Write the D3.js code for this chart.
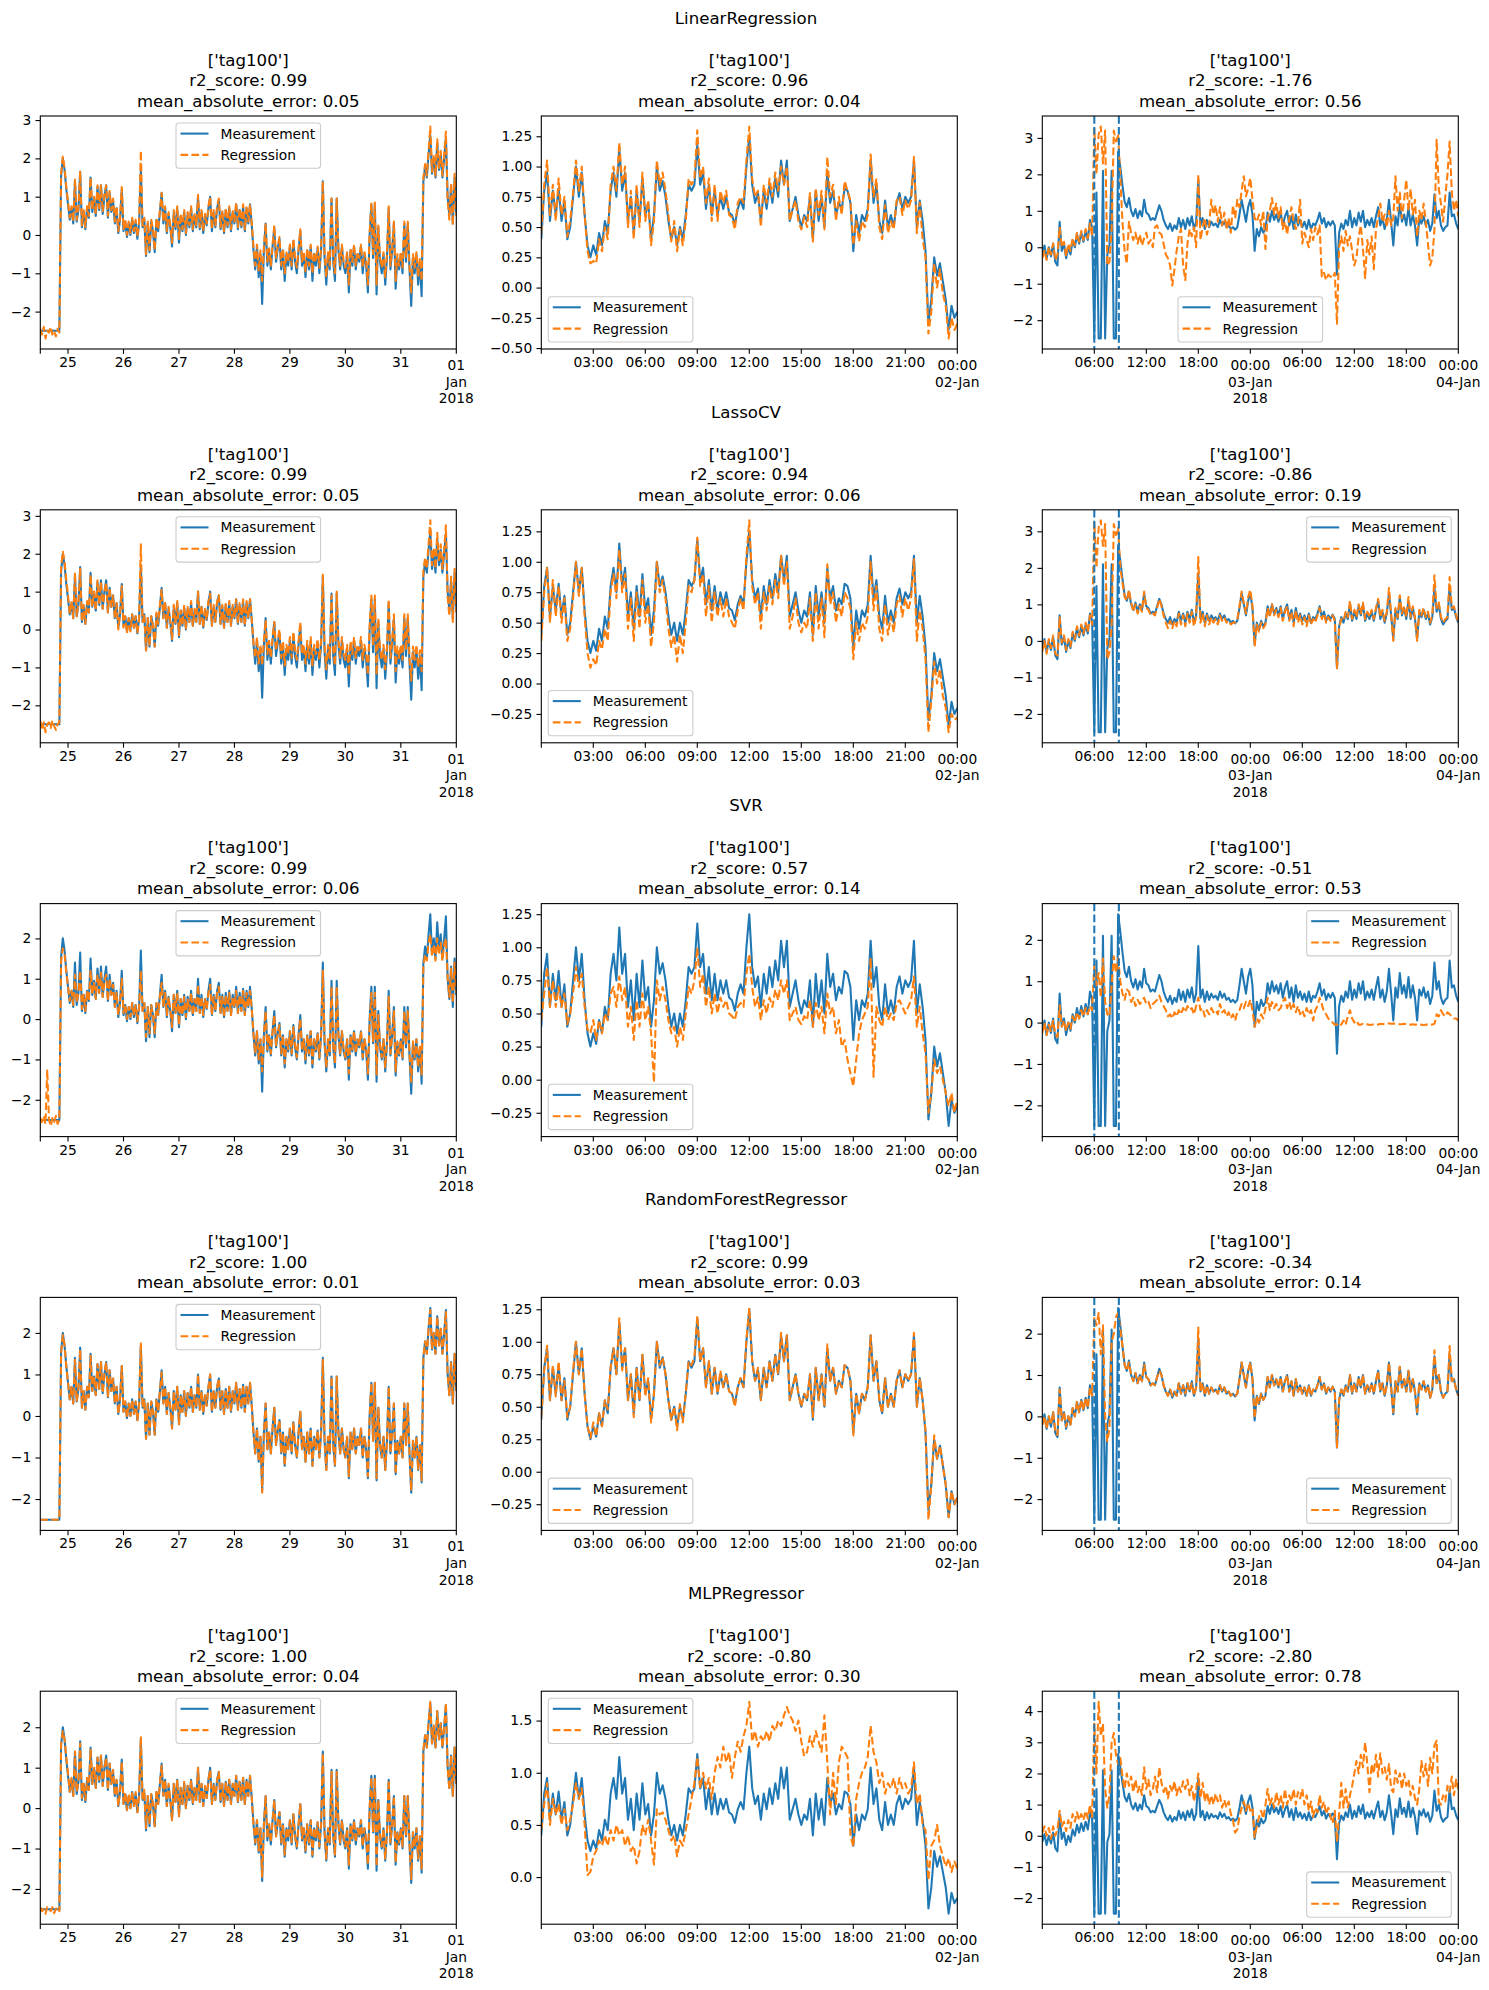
<!DOCTYPE html>
<html>
<head>
<meta charset="utf-8">
<script src="https://cdn.jsdelivr.net/npm/d3@7"></script>
<style>
  body { margin: 0; background: #fff; }
  svg { display: block; font-family: "DejaVu Sans", sans-serif; }
</style>
</head>
<body>
<svg id="chart" width="1489" height="1990"></svg>
<script>
// models (one row each) and their scores per column
var modelNames = ["LinearRegression", "LassoCV", "SVR", "RandomForestRegressor", "MLPRegressor"];
var r2Scores = [
  ["0.99", "0.96", "-1.76"],
  ["0.99", "0.94", "-0.86"],
  ["0.99", "0.57", "-0.51"],
  ["1.00", "0.99", "-0.34"],
  ["1.00", "-0.80", "-2.80"]
];
var maeScores = [
  ["0.05", "0.04", "0.56"],
  ["0.05", "0.06", "0.19"],
  ["0.06", "0.14", "0.53"],
  ["0.01", "0.03", "0.14"],
  ["0.04", "0.30", "0.78"]
];
var tagName = "['tag100']";
var seriesNames = ["Measurement", "Regression"];

// column 1: 24 Dec 12:00 -> 1 Jan, every 45 min
var measDec = [
  -2.5, -2.5, -2.5, -2.5, -2.5, -2.5, -2.5, -2.5, -2.5, -2.5,
  -2.5, -2.5, 1.55, 2.0, 1.7, 1.2, 0.8, 0.4, 0.7, 0.3,
  1.4, 0.35, 0.65, 1.65, 0.2, 0.6, 0.15, 0.7, 0.45, 1.5,
  0.6, 0.95, 0.5, 1.25, 0.65, 1.3, 0.55, 1.0, 1.3, 0.45,
  1.1, 0.6, 0.9, 0.3, 0.7, 0.05, 0.4, 1.2, 0.1, 0.35,
  -0.05, 0.3, 0.0, 0.4, 0.05, 0.35, -0.1, 0.3, 1.7, 0.2,
  0.4, -0.55, 0.3, -0.45, 0.35, 0.1, -0.45, 0.4, 0.1, 0.6,
  1.1, 0.3, 0.7, 0.05, 0.55, 0.2, -0.3, 0.6, 0.15, 0.7,
  -0.2, 0.5, 0.1, 0.6, 0.0, 0.55, 0.2, 0.7, 0.1, 0.5,
  0.2, 1.0, 0.15, 0.6, 0.05, 0.5, 0.25, 0.7, 1.0, 0.1,
  0.6, 0.2, 0.7, 0.9, 0.15, 0.6, 0.05, 0.65, 0.2, 0.7,
  0.1, 0.6, 0.3, 0.8, 0.15, 0.65, 0.2, 0.75, 0.1, 0.7,
  0.3, 0.8, 0.25, -0.4, -0.9, -0.3, -1.1, -0.5, -1.8, -0.4,
  0.3, -0.8, -0.4, -0.9, -0.3, 0.2, -0.7, -0.35, -0.1, -0.9,
  -0.4, -1.2, -0.5, -0.8, -0.3, -0.9, -0.15, -0.7, -1.0, -0.4,
  0.1, -0.8, -0.5, -1.1, -0.4, -0.9, -0.3, -1.2, -0.5, -0.8,
  -0.35, -1.0, -0.4, 1.4, -0.6, -1.3, -0.5, -0.9, 0.95, -0.7,
  -1.2, 0.95, -0.4, -0.9, -0.3, -0.8, -1.0, -0.5, -1.5, -0.4,
  -0.8, -0.3, -0.9, -0.5, -0.7, -0.3, -1.0, -0.5, -0.8, -1.5,
  0.0, 0.8, -0.6, 0.8, -1.55, 0.2, -0.7, -1.0, -0.5, -1.3,
  -0.6, 0.7, -0.9, -0.4, 0.3, -1.4, -0.6, -0.9, -0.5, -1.0,
  0.3, -0.7, 0.3, -0.9, -1.85, -0.6, -1.0, -0.5, -1.3, -0.7,
  -1.6, 1.4, 1.8, 1.5, 2.1, 2.6, 1.6, 2.0, 1.5, 2.4,
  1.7, 2.1, 1.5, 2.0, 2.55, 1.0, 0.5, 1.3, 0.3, 1.5,
  0.6
];
var linDec = [
  -2.45, -2.6, -2.4, -2.7, -2.5, -2.55, -2.4, -2.6, -2.5, -2.65,
  -2.45, -2.55, 1.6, 2.05, 1.75, 1.25, 0.85, 0.45, 0.75, 0.35,
  1.45, 0.4, 0.7, 1.65, 0.25, 0.65, 0.2, 0.75, 0.5, 1.5,
  0.65, 1.0, 0.55, 1.3, 0.7, 1.3, 0.6, 1.05, 1.3, 0.5,
  1.15, 0.65, 0.95, 0.35, 0.75, 0.1, 0.45, 1.25, 0.15, 0.4,
  0.0, 0.35, 0.05, 0.45, 0.1, 0.4, -0.05, 0.35, 2.2, 0.25,
  0.45, -0.5, 0.35, -0.4, 0.4, 0.15, -0.4, 0.45, 0.15, 0.65,
  1.1, 0.35, 0.75, 0.1, 0.6, 0.25, -0.2, 0.65, 0.2, 0.75,
  -0.1, 0.55, 0.15, 0.65, 0.05, 0.6, 0.25, 0.75, 0.15, 0.55,
  0.25, 1.05, 0.2, 0.65, 0.1, 0.55, 0.3, 0.75, 1.0, 0.15,
  0.65, 0.25, 0.75, 0.95, 0.2, 0.65, 0.1, 0.7, 0.25, 0.75,
  0.15, 0.65, 0.35, 0.85, 0.2, 0.7, 0.25, 0.8, 0.15, 0.75,
  0.35, 0.8, 0.3, -0.3, -0.8, -0.25, -0.95, -0.4, -1.2, -0.3,
  0.3, -0.7, -0.35, -0.8, -0.25, 0.25, -0.6, -0.3, -0.05, -0.8,
  -0.35, -1.0, -0.45, -0.7, -0.25, -0.8, -0.1, -0.6, -0.85, -0.35,
  0.15, -0.7, -0.45, -0.95, -0.35, -0.8, -0.25, -1.0, -0.45, -0.7,
  -0.3, -0.85, -0.35, 1.4, -0.5, -1.1, -0.45, -0.8, 0.95, -0.6,
  -1.0, 0.95, -0.35, -0.8, -0.25, -0.7, -0.85, -0.45, -1.3, -0.35,
  -0.7, -0.25, -0.8, -0.45, -0.6, -0.25, -0.85, -0.45, -0.7, -1.3,
  0.05, 0.85, -0.5, 0.85, -1.3, 0.25, -0.6, -0.85, -0.45, -1.1,
  -0.5, 0.75, -0.8, -0.35, 0.35, -1.2, -0.5, -0.8, -0.45, -0.85,
  0.35, -0.6, 0.35, -0.8, -1.5, -0.5, -0.85, -0.45, -1.1, -0.6,
  -1.2, 1.5, 1.85, 1.55, 2.2, 2.83, 1.65, 2.1, 1.55, 2.5,
  1.75, 2.2, 1.55, 2.1, 2.7, 0.9, 0.4, 1.35, 0.25, 1.6,
  0.5
];
var lassoDec = [
  -2.4, -2.65, -2.45, -2.71, -2.5, -2.45, -2.6, -2.4, -2.55, -2.65,
  -2.5, -2.45, 1.65, 2.05, 1.8, 1.3, 0.9, 0.4, 0.75, 0.3,
  1.5, 0.35, 0.7, 1.6, 0.2, 0.65, 0.15, 0.75, 0.45, 1.45,
  0.6, 1.0, 0.5, 1.3, 0.65, 1.25, 0.55, 1.0, 1.25, 0.45,
  1.1, 0.6, 0.9, 0.3, 0.7, 0.0, 0.4, 1.15, 0.05, 0.35,
  -0.1, 0.3, -0.05, 0.4, 0.05, 0.35, -0.1, 0.3, 2.25, 0.2,
  0.4, -0.55, 0.3, -0.45, 0.35, 0.1, -0.45, 0.45, 0.15, 0.65,
  1.05, 0.3, 0.75, 0.05, 0.6, 0.2, -0.25, 0.65, 0.15, 0.75,
  -0.15, 0.5, 0.1, 0.65, 0.0, 0.6, 0.2, 0.75, 0.1, 0.55,
  0.2, 1.0, 0.15, 0.65, 0.05, 0.55, 0.25, 0.75, 0.95, 0.1,
  0.65, 0.2, 0.75, 0.9, 0.15, 0.65, 0.05, 0.7, 0.2, 0.75,
  0.1, 0.65, 0.3, 0.8, 0.15, 0.7, 0.2, 0.8, 0.1, 0.75,
  0.3, 0.8, 0.25, -0.35, -0.75, -0.2, -0.9, -0.4, -0.95, -0.3,
  0.25, -0.65, -0.3, -0.75, -0.2, 0.2, -0.55, -0.25, 0.0, -0.75,
  -0.3, -0.95, -0.4, -0.65, -0.2, -0.75, -0.05, -0.55, -0.8, -0.3,
  0.2, -0.65, -0.4, -0.9, -0.3, -0.75, -0.2, -0.95, -0.4, -0.65,
  -0.25, -0.8, -0.3, 1.45, -0.45, -1.05, -0.4, -0.75, 0.9, -0.55,
  -0.95, 1.0, -0.3, -0.75, -0.2, -0.65, -0.8, -0.4, -1.2, -0.3,
  -0.65, -0.2, -0.75, -0.4, -0.55, -0.2, -0.8, -0.4, -0.65, -1.2,
  0.1, 0.9, -0.45, 0.9, -1.2, 0.3, -0.55, -0.8, -0.4, -1.05,
  -0.45, 0.8, -0.75, -0.3, 0.4, -1.1, -0.45, -0.75, -0.4, -0.8,
  0.4, -0.55, 0.4, -0.75, -1.35, -0.45, -0.8, -0.4, -1.0, -0.55,
  -1.1, 1.55, 1.9, 1.6, 2.25, 2.88, 1.7, 2.15, 1.6, 2.55,
  1.8, 2.25, 1.6, 2.1, 2.75, 0.85, 0.35, 1.4, 0.2, 1.6,
  0.45
];
var svrDec = [
  -2.45, -2.55, -2.4, -2.6, -1.25, -2.5, -2.65, -2.45, -2.55, -2.4,
  -2.6, -2.5, 1.45, 1.75, 1.6, 1.15, 0.8, 0.45, 0.7, 0.35,
  1.1, 0.4, 0.65, 1.2, 0.25, 0.6, 0.2, 0.7, 0.45, 1.2,
  0.6, 0.9, 0.5, 1.1, 0.65, 1.15, 0.55, 0.95, 1.1, 0.45,
  1.0, 0.6, 0.85, 0.3, 0.65, 0.1, 0.4, 1.0, 0.15, 0.35,
  0.0, 0.3, 0.05, 0.4, 0.1, 0.35, -0.05, 0.3, 1.2, 0.2,
  0.4, -0.45, 0.3, -0.35, 0.35, 0.1, -0.35, 0.4, 0.1, 0.55,
  0.9, 0.3, 0.65, 0.1, 0.55, 0.2, -0.2, 0.6, 0.15, 0.65,
  -0.15, 0.5, 0.1, 0.55, 0.05, 0.5, 0.2, 0.65, 0.1, 0.5,
  0.2, 0.85, 0.15, 0.55, 0.1, 0.5, 0.25, 0.65, 0.85, 0.1,
  0.55, 0.2, 0.65, 0.8, 0.15, 0.55, 0.05, 0.6, 0.2, 0.65,
  0.1, 0.55, 0.3, 0.7, 0.15, 0.6, 0.2, 0.7, 0.1, 0.65,
  0.3, 0.7, 0.25, -0.35, -0.85, -0.3, -1.0, -0.5, -1.3, -0.4,
  0.2, -0.75, -0.4, -0.85, -0.3, 0.1, -0.65, -0.35, -0.15, -0.85,
  -0.4, -1.1, -0.5, -0.75, -0.3, -0.85, -0.2, -0.65, -0.95, -0.4,
  0.0, -0.75, -0.5, -1.0, -0.4, -0.85, -0.3, -1.1, -0.5, -0.75,
  -0.35, -0.95, -0.4, 1.2, -0.55, -1.2, -0.5, -0.85, 0.8, -0.65,
  -1.1, 0.8, -0.4, -0.85, -0.3, -0.75, -0.95, -0.5, -1.35, -0.4,
  -0.75, -0.3, -0.85, -0.5, -0.65, -0.3, -0.95, -0.5, -0.75, -1.35,
  -0.1, 0.65, -0.55, 0.65, -1.4, 0.1, -0.65, -0.95, -0.5, -1.2,
  -0.55, 0.55, -0.85, -0.4, 0.2, -1.3, -0.55, -0.85, -0.5, -0.95,
  0.2, -0.65, 0.2, -0.85, -1.55, -0.55, -0.95, -0.5, -1.2, -0.65,
  -1.4, 1.3, 1.6, 1.45, 1.9, 2.1, 1.55, 1.85, 1.45, 2.0,
  1.6, 1.9, 1.45, 1.85, 2.0, 1.05, 0.55, 1.25, 0.4, 1.4,
  0.65
];
var rfDec = [
  -2.5, -2.5, -2.5, -2.5, -2.5, -2.5, -2.5, -2.5, -2.5, -2.5,
  -2.5, -2.5, 1.5, 1.95, 1.7, 1.2, 0.8, 0.4, 0.7, 0.3,
  1.35, 0.35, 0.65, 1.6, 0.2, 0.6, 0.15, 0.7, 0.45, 1.45,
  0.6, 0.95, 0.5, 1.25, 0.65, 1.3, 0.55, 1.0, 1.3, 0.45,
  1.1, 0.6, 0.9, 0.3, 0.7, 0.05, 0.4, 1.2, 0.1, 0.35,
  -0.05, 0.3, 0.0, 0.4, 0.05, 0.35, -0.1, 0.3, 1.75, 0.2,
  0.4, -0.55, 0.3, -0.45, 0.35, 0.1, -0.45, 0.4, 0.1, 0.6,
  1.05, 0.3, 0.7, 0.05, 0.55, 0.2, -0.3, 0.6, 0.15, 0.7,
  -0.2, 0.5, 0.1, 0.6, 0.0, 0.55, 0.2, 0.7, 0.1, 0.5,
  0.2, 1.0, 0.15, 0.6, 0.05, 0.5, 0.25, 0.7, 1.0, 0.1,
  0.6, 0.2, 0.7, 0.9, 0.15, 0.6, 0.05, 0.65, 0.2, 0.7,
  0.1, 0.6, 0.3, 0.8, 0.15, 0.65, 0.2, 0.75, 0.1, 0.7,
  0.3, 0.8, 0.25, -0.4, -0.9, -0.3, -1.1, -0.5, -1.85, -0.4,
  0.3, -0.8, -0.4, -0.9, -0.3, 0.2, -0.7, -0.35, -0.1, -0.9,
  -0.4, -1.2, -0.5, -0.8, -0.3, -0.9, -0.15, -0.7, -1.0, -0.4,
  0.1, -0.8, -0.5, -1.1, -0.4, -0.9, -0.3, -1.2, -0.5, -0.8,
  -0.35, -1.0, -0.4, 1.35, -0.6, -1.3, -0.5, -0.9, 0.95, -0.7,
  -1.2, 0.95, -0.4, -0.9, -0.3, -0.8, -1.0, -0.5, -1.45, -0.4,
  -0.8, -0.3, -0.9, -0.5, -0.7, -0.3, -1.0, -0.5, -0.8, -1.45,
  0.0, 0.8, -0.6, 0.8, -1.5, 0.2, -0.7, -1.0, -0.5, -1.3,
  -0.6, 0.7, -0.9, -0.4, 0.3, -1.4, -0.6, -0.9, -0.5, -1.0,
  0.3, -0.7, 0.3, -0.9, -1.8, -0.6, -1.0, -0.5, -1.3, -0.7,
  -1.55, 1.4, 1.8, 1.5, 2.1, 2.55, 1.6, 2.0, 1.5, 2.4,
  1.7, 2.1, 1.5, 2.0, 2.5, 1.0, 0.5, 1.3, 0.3, 1.5,
  0.6
];
var mlpDec = [
  -2.45, -2.55, -2.5, -2.61, -2.45, -2.5, -2.55, -2.45, -2.6, -2.5,
  -2.45, -2.55, 1.6, 1.9, 1.7, 1.25, 0.85, 0.4, 0.75, 0.3,
  1.4, 0.4, 0.65, 1.6, 0.25, 0.6, 0.2, 0.75, 0.45, 1.45,
  0.6, 1.0, 0.5, 1.25, 0.7, 1.3, 0.55, 1.0, 1.25, 0.45,
  1.1, 0.6, 0.95, 0.3, 0.7, 0.05, 0.45, 1.15, 0.1, 0.4,
  -0.05, 0.35, 0.0, 0.4, 0.05, 0.4, -0.1, 0.3, 1.75, 0.2,
  0.45, -0.5, 0.3, -0.4, 0.35, 0.1, -0.45, 0.45, 0.1, 0.6,
  1.05, 0.3, 0.7, 0.05, 0.6, 0.2, -0.3, 0.6, 0.15, 0.7,
  -0.2, 0.5, 0.1, 0.65, 0.0, 0.55, 0.2, 0.7, 0.1, 0.5,
  0.2, 1.0, 0.15, 0.6, 0.05, 0.55, 0.25, 0.7, 0.95, 0.1,
  0.6, 0.2, 0.7, 0.9, 0.15, 0.6, 0.05, 0.65, 0.2, 0.7,
  0.1, 0.6, 0.3, 0.8, 0.15, 0.65, 0.2, 0.75, 0.1, 0.7,
  0.3, 0.8, 0.25, -0.4, -0.85, -0.3, -1.05, -0.5, -1.7, -0.4,
  0.3, -0.75, -0.4, -0.85, -0.3, 0.2, -0.7, -0.35, -0.1, -0.85,
  -0.4, -1.15, -0.5, -0.75, -0.3, -0.85, -0.15, -0.7, -0.95, -0.4,
  0.1, -0.75, -0.5, -1.05, -0.4, -0.85, -0.3, -1.15, -0.5, -0.75,
  -0.35, -0.95, -0.4, 1.35, -0.6, -1.25, -0.5, -0.85, 0.9, -0.7,
  -1.15, 0.9, -0.4, -0.85, -0.3, -0.75, -0.95, -0.5, -1.4, -0.4,
  -0.75, -0.3, -0.85, -0.5, -0.7, -0.3, -0.95, -0.5, -0.75, -1.4,
  0.0, 0.75, -0.6, 0.75, -1.45, 0.2, -0.7, -0.95, -0.5, -1.25,
  -0.6, 0.7, -0.85, -0.4, 0.3, -1.35, -0.6, -0.85, -0.5, -0.95,
  0.3, -0.7, 0.3, -0.85, -1.75, -0.6, -0.95, -0.5, -1.25, -0.7,
  -1.5, 1.45, 1.8, 1.5, 2.1, 2.63, 1.6, 2.05, 1.5, 2.4,
  1.7, 2.1, 1.5, 2.0, 2.6, 1.0, 0.45, 1.3, 0.3, 1.5,
  0.6
];

// column 2: 1 Jan 00:00 -> 2 Jan 00:00, every 10 min
var measJan1 = [
  0.4, 0.8, 0.95, 0.55, 0.8, 0.6, 0.82, 0.55, 0.72, 0.4,
  0.5, 0.75, 1.0, 0.75, 0.95, 0.6, 0.35, 0.25, 0.35, 0.27,
  0.45, 0.35, 0.55, 0.45, 0.8, 0.95, 0.75, 1.15, 0.8, 0.95,
  0.55, 0.75, 0.45, 0.8, 0.55, 0.9, 0.6, 0.7, 0.4, 0.6,
  1.0, 0.8, 0.88, 0.75, 0.55, 0.4, 0.5, 0.35, 0.5, 0.4,
  0.6, 0.85, 0.8, 0.85, 1.18, 0.85, 0.95, 0.65, 0.85, 0.6,
  0.8, 0.6, 0.75, 0.65, 0.75, 0.62, 0.6, 0.52, 0.65, 0.72,
  0.65, 1.0, 1.25, 0.85, 0.7, 0.78, 0.55, 0.8, 0.65, 0.85,
  0.7, 0.9, 0.75, 1.05, 0.85, 1.05, 0.55, 0.65, 0.75, 0.6,
  0.5, 0.6, 0.55, 0.75, 0.4, 0.8, 0.55, 0.75, 0.5, 0.95,
  0.7, 0.8, 0.6, 0.7, 0.65, 0.82, 0.8, 0.7, 0.3, 0.6,
  0.45, 0.6, 0.55, 0.65, 1.05, 0.7, 0.85, 0.55, 0.45, 0.72,
  0.5, 0.6, 0.5, 0.7, 0.78, 0.65, 0.75, 0.7, 0.75, 1.05,
  0.5, 0.72, 0.55, 0.3, -0.3, -0.1, 0.25, 0.1, 0.2, 0.05,
  -0.1, -0.35, -0.15, -0.25, -0.2
];
var linJan1 = [
  0.45, 0.85, 1.05, 0.6, 0.85, 0.55, 0.9, 0.6, 0.75, 0.42,
  0.55, 0.78, 1.05, 0.8, 1.0, 0.6, 0.3, 0.2, 0.22, 0.2,
  0.4, 0.3, 0.5, 0.4, 0.85, 1.0, 0.8, 1.2, 0.85, 1.0,
  0.5, 0.8, 0.4, 0.85, 0.5, 0.95, 0.55, 0.72, 0.35, 0.55,
  1.05, 0.85, 0.95, 0.8, 0.6, 0.38, 0.55, 0.3, 0.48, 0.35,
  0.55, 0.9, 0.85, 0.9, 1.3, 0.9, 1.0, 0.7, 0.9, 0.55,
  0.85, 0.55, 0.8, 0.7, 0.8, 0.6, 0.58, 0.48, 0.7, 0.75,
  0.7, 1.05, 1.33, 0.9, 0.75, 0.8, 0.5, 0.85, 0.7, 0.9,
  0.75, 0.95, 0.8, 1.0, 0.85, 1.0, 0.55, 0.65, 0.72, 0.55,
  0.48, 0.58, 0.5, 0.78, 0.38, 0.82, 0.6, 0.8, 0.48, 1.08,
  0.75, 0.85, 0.55, 0.75, 0.6, 0.88, 0.8, 0.72, 0.35, 0.55,
  0.38, 0.55, 0.5, 0.6, 1.1, 0.75, 0.9, 0.5, 0.4, 0.68,
  0.45, 0.55, 0.48, 0.72, 0.75, 0.6, 0.72, 0.65, 0.72, 1.08,
  0.45, 0.7, 0.4, 0.25, -0.38, -0.2, 0.2, 0.0, 0.15, -0.05,
  -0.15, -0.42, -0.25, -0.35, -0.3
];
var lassoJan1 = [
  0.35, 0.75, 0.95, 0.5, 0.85, 0.55, 0.8, 0.5, 0.7, 0.35,
  0.45, 0.7, 1.0, 0.72, 0.95, 0.55, 0.25, 0.13, 0.2, 0.15,
  0.35, 0.28, 0.45, 0.35, 0.75, 0.9, 0.7, 1.1, 0.75, 0.9,
  0.45, 0.7, 0.35, 0.75, 0.45, 0.85, 0.5, 0.65, 0.3, 0.5,
  1.0, 0.75, 0.85, 0.7, 0.45, 0.3, 0.4, 0.18, 0.4, 0.25,
  0.5, 0.8, 0.75, 0.85, 1.2, 0.8, 0.9, 0.55, 0.8, 0.5,
  0.75, 0.55, 0.7, 0.55, 0.7, 0.55, 0.5, 0.45, 0.6, 0.7,
  0.6, 1.05, 1.34, 0.8, 0.65, 0.75, 0.45, 0.75, 0.6, 0.8,
  0.65, 0.85, 0.7, 1.05, 0.8, 1.0, 0.45, 0.55, 0.7, 0.5,
  0.42, 0.5, 0.45, 0.7, 0.35, 0.75, 0.45, 0.7, 0.38, 0.98,
  0.65, 0.75, 0.5, 0.65, 0.55, 0.75, 0.7, 0.62, 0.2, 0.5,
  0.35, 0.5, 0.45, 0.55, 1.0, 0.6, 0.8, 0.45, 0.35, 0.65,
  0.4, 0.55, 0.42, 0.65, 0.72, 0.55, 0.7, 0.6, 0.7, 1.02,
  0.35, 0.6, 0.45, 0.2, -0.4, -0.15, 0.18, 0.0, 0.12, -0.1,
  -0.2, -0.4, -0.25, -0.3, -0.28
];
var svrJan1 = [
  0.45, 0.65, 0.85, 0.55, 0.75, 0.55, 0.7, 0.55, 0.65, 0.42,
  0.5, 0.65, 0.85, 0.7, 0.8, 0.55, 0.38, 0.35, 0.45, 0.3,
  0.45, 0.35, 0.5, 0.45, 0.65, 0.7, 0.55, 0.78, 0.6, 0.7,
  0.4, 0.55, 0.3, 0.6, 0.4, 0.65, 0.45, 0.55, 0.35, -0.02,
  0.75, 0.6, 0.7, 0.6, 0.45, 0.35, 0.4, 0.25, 0.4, 0.3,
  0.5, 0.7, 0.65, 0.75, 1.0, 0.7, 0.8, 0.55, 0.7, 0.5,
  0.65, 0.5, 0.62, 0.55, 0.6, 0.5, 0.48, 0.45, 0.55, 0.58,
  0.55, 0.8, 0.95, 0.7, 0.55, 0.62, 0.45, 0.6, 0.5, 0.62,
  0.55, 0.68, 0.6, 0.75, 0.65, 0.75, 0.45, 0.5, 0.55, 0.45,
  0.42, 0.48, 0.45, 0.6, 0.4, 0.58, 0.45, 0.55, 0.35, 0.65,
  0.5, 0.55, 0.35, 0.45, 0.25, 0.3, 0.15, 0.05, -0.05, 0.15,
  0.35, 0.45, 0.5, 0.55, 0.92, 0.02, 0.55, 0.45, 0.4, 0.55,
  0.45, 0.5, 0.45, 0.58, 0.6, 0.55, 0.5, 0.55, 0.6, 0.78,
  0.4, 0.55, 0.35, 0.2, -0.25, -0.1, 0.15, 0.05, 0.1, 0.0,
  -0.1, -0.2, -0.1, -0.25, -0.15
];
var rfJan1 = [
  0.42, 0.78, 0.97, 0.55, 0.82, 0.58, 0.85, 0.55, 0.7, 0.42,
  0.5, 0.78, 1.0, 0.75, 0.95, 0.6, 0.35, 0.26, 0.38, 0.27,
  0.45, 0.35, 0.55, 0.48, 0.8, 0.95, 0.75, 1.18, 0.78, 0.95,
  0.55, 0.75, 0.42, 0.8, 0.55, 0.9, 0.58, 0.72, 0.38, 0.6,
  1.0, 0.82, 0.88, 0.75, 0.55, 0.4, 0.5, 0.32, 0.52, 0.38,
  0.6, 0.85, 0.82, 0.88, 1.2, 0.85, 0.95, 0.65, 0.85, 0.6,
  0.8, 0.6, 0.78, 0.65, 0.75, 0.62, 0.6, 0.5, 0.65, 0.72,
  0.65, 1.02, 1.26, 0.85, 0.7, 0.8, 0.55, 0.8, 0.65, 0.85,
  0.7, 0.9, 0.75, 1.07, 0.85, 1.05, 0.55, 0.65, 0.75, 0.6,
  0.5, 0.6, 0.55, 0.75, 0.42, 0.8, 0.55, 0.75, 0.5, 0.98,
  0.7, 0.8, 0.6, 0.7, 0.65, 0.82, 0.8, 0.7, 0.28, 0.6,
  0.45, 0.6, 0.55, 0.65, 1.05, 0.7, 0.85, 0.55, 0.45, 0.72,
  0.5, 0.6, 0.5, 0.7, 0.78, 0.65, 0.75, 0.7, 0.75, 1.07,
  0.5, 0.72, 0.55, 0.32, -0.37, -0.1, 0.28, 0.1, 0.2, 0.05,
  -0.1, -0.35, -0.15, -0.25, -0.2
];
var mlpJan1 = [
  0.45, 0.7, 0.9, 0.5, 0.75, 0.6, 0.7, 0.5, 0.65, 0.45,
  0.55, 0.7, 0.9, 0.75, 0.85, 0.5, 0.02, 0.05, 0.2, 0.25,
  0.35, 0.3, 0.4, 0.3, 0.45, 0.35, 0.5, 0.4, 0.45, 0.3,
  0.4, 0.25, 0.3, 0.13, 0.25, 0.5, 0.4, 0.55, 0.35, 0.12,
  0.65, 0.6, 0.62, 0.55, 0.45, 0.35, 0.4, 0.2, 0.35, 0.3,
  0.45, 0.6, 0.75, 0.9, 1.15, 0.85, 1.0, 0.85, 0.95, 0.75,
  1.0, 1.15, 1.05, 1.25, 1.1, 1.2, 0.95, 1.15, 1.3, 1.2,
  1.35, 1.45, 1.68, 1.3, 1.4, 1.25, 1.35, 1.3, 1.4, 1.3,
  1.45, 1.4, 1.5, 1.45, 1.55, 1.63, 1.55, 1.5, 1.4, 1.5,
  1.3, 1.16, 1.2, 1.35, 1.25, 1.4, 1.3, 1.2, 1.55, 1.1,
  0.6, 1.0, 0.7, 1.1, 1.25, 1.2, 1.15, 0.4, 0.29, 0.75,
  0.9, 1.0, 1.05, 1.15, 1.45, 1.2, 1.1, 0.9, 1.0, 0.8,
  0.9, 0.85, 0.95, 0.8, 0.95, 0.85, 0.9, 0.8, 0.85, 1.1,
  0.7, 0.8, 0.5, 0.45, -0.03, 0.3, 0.35, 0.5, 0.3, 0.2,
  0.1, 0.18, 0.05, 0.15, 0.08
];

// column 3: 2 Jan 00:00 -> 4 Jan 00:00, every 15 min
var measJan2 = [
  -0.2, 0.05, -0.3, 0.0, -0.25, 0.1, -0.4, -0.5, 0.7, -0.1,
  0.1, -0.3, 0.0, -0.2, 0.2, 0.0, 0.35, 0.1, 0.4, 0.15,
  0.45, 0.2, 0.75, 0.55, -2.5, 1.5, -2.5, -2.5, 2.1, -2.5,
  -0.2, 0.05, 2.1, -2.5, -2.5, 2.62, 2.2, 1.7, 1.25, 1.1,
  1.35, 1.0, 0.85, 1.05, 0.8, 1.0, 0.85, 1.3, 0.95, 0.9,
  0.75, 0.8, 0.75, 0.95, 1.15, 1.0, 0.75, 0.6, 0.5, 0.65,
  0.45, 0.6, 0.5, 0.8, 0.55, 0.75, 0.5, 0.8, 0.6, 0.85,
  0.5, 0.7, 1.85, 0.6, 0.8, 0.5, 0.75, 0.55, 0.7, 0.6,
  0.65, 0.55, 0.75, 0.6, 0.7, 0.55, 0.6, 0.5, 0.55, 0.48,
  0.55, 0.9, 1.3, 1.0, 0.7, 1.1, 1.3, 0.9, -0.1, 0.5,
  0.3, 0.55, 0.4, 0.5, 0.95, 0.7, 1.0, 0.75, 0.9, 0.7,
  0.95, 0.6, 0.85, 1.0, 0.6, 0.85, 0.5, 0.9, 0.6, 0.75,
  0.55, 0.7, 0.5, 0.75, 0.5, 0.65, 0.6, 0.75, 0.95, 0.65,
  0.8, 0.55, 0.7, 0.6, 0.72, 0.6, -0.75, 0.4, 0.65, 0.5,
  0.75, 0.6, 1.0, 0.55, 0.8, 0.6, 0.95, 0.7, 1.0, 0.55,
  0.75, 0.6, 0.8, 0.55, 0.85, 1.1, 0.6, 0.8, 0.5, 0.75,
  1.3, 0.7, 0.05, 0.85, 0.6, 1.2, 0.7, 0.9, 0.6, 1.1,
  0.6, 0.9, 0.6, 0.05, 0.8, 0.65, 0.85, 0.6, 0.75, 0.45,
  0.65, 1.45, 0.8, 1.0, 0.6, 0.45, 0.55, 0.6, 1.5, 0.85,
  0.9, 0.65, 0.5
];
var linJan2 = [
  -0.3, -0.1, -0.35, 0.0, -0.2, 0.1, -0.35, -0.2, 0.55, 0.0,
  0.15, -0.25, 0.1, -0.1, 0.25, 0.05, 0.4, 0.15, 0.45, 0.2,
  0.5, 0.25, 0.65, 0.3, 3.25, 2.0, 3.1, 3.31, 2.3, 3.2,
  -0.5, -0.4, 0.5, 3.2, 2.9, 3.1, 1.9, 0.7, -0.1, -0.45,
  0.7, 0.4, 0.2, 0.4, 0.1, 0.35, 0.05, 0.25, 0.4, 0.1,
  0.2, 0.0, 0.55, 0.6, 0.4, 0.35, 0.1, -0.2, -0.3, -0.5,
  -1.05, -0.6, -0.1, 0.3, 0.5, -0.5, -0.9, 0.1, 0.5, 0.3,
  0.55, 0.0, 2.0, 0.2, 0.55, 0.8, 0.35, 0.6, 1.3, 0.9,
  1.15, 0.7, 1.1, 0.6, 0.95, 0.5, 0.8, 0.4, 1.15, 0.8,
  1.3, 1.1, 1.55, 1.95, 1.4, 1.6, 1.9, 1.3, 0.8, 0.7,
  0.9, 0.6, 1.0, -0.05, 0.8, 1.0, 1.35, 0.9, 1.2, 0.8,
  1.1, 0.5, 0.7, 0.35, 0.8, 1.1, 0.7, 0.5, 0.65, 1.3,
  0.1, 0.4, 0.2, 0.0, 0.5, 0.2, 0.55, 0.35, 0.6, -0.8,
  -0.7, -0.9, -0.75, -0.8, -0.85, -0.7, -2.1, 0.0, 0.3, -0.1,
  0.45, 0.05, 0.3, -0.1, -0.5, -0.3, 0.3, 0.6, -0.05, -0.85,
  0.2, -0.2, 0.3, -0.6, 0.5, 0.8, 1.2, 0.7, 0.9, 0.55,
  1.0, 0.6, 0.8, 1.95, 1.0, 1.5, 0.8, 1.3, 1.85, 1.0,
  1.6, 0.9, 1.3, 0.3, 1.0, 0.75, 1.2, 0.7, 0.1, -0.5,
  -0.3, 0.5, 2.95, 1.6, 1.2, 0.7, 1.4, 2.0, 2.9, 1.5,
  1.0, 1.3, 0.85
];
var lassoJan2 = [
  -0.3, 0.0, -0.35, 0.05, -0.2, 0.15, -0.35, -0.4, 0.65, -0.05,
  0.15, -0.25, 0.05, -0.15, 0.25, 0.05, 0.4, 0.15, 0.45, 0.2,
  0.5, 0.25, 0.7, 0.45, 3.25, 2.0, 3.1, 3.3, 2.6, 3.2,
  -0.5, -0.3, 0.4, 3.2, 2.9, 3.1, 2.0, 1.6, 1.2, 1.1,
  1.4, 1.05, 0.8, 1.0, 0.75, 0.95, 0.8, 1.35, 0.9, 0.85,
  0.7, 0.75, 0.7, 0.9, 1.15, 0.95, 0.7, 0.5, 0.35, 0.55,
  0.35, 0.55, 0.4, 0.75, 0.45, 0.7, 0.4, 0.75, 0.5, 0.8,
  0.4, 0.65, 2.3, 0.5, 0.75, 0.4, 0.7, 0.45, 0.65, 0.5,
  0.6, 0.45, 0.7, 0.55, 0.65, 0.5, 0.55, 0.45, 0.5, 0.5,
  0.6, 0.95, 1.35, 1.05, 0.75, 1.2, 1.4, 0.95, -0.15, 0.45,
  0.25, 0.5, 0.35, 0.45, 0.9, 0.65, 1.0, 0.7, 0.85, 0.65,
  0.9, 0.55, 0.8, 0.95, 0.55, 0.8, 0.4, 0.85, 0.5, 0.7,
  0.45, 0.65, 0.4, 0.7, 0.45, 0.6, 0.5, 0.7, 0.9, 0.6,
  0.75, 0.5, 0.65, 0.55, 0.7, 0.55, -0.75, 0.35, 0.6, 0.55,
  0.8, 0.65, 1.1, 0.6, 0.85, 0.65, 1.0, 0.75, 1.05, 0.6,
  0.8, 0.65, 0.85, 0.6, 0.9, 1.15, 0.65, 0.85, 0.55, 0.8,
  1.45, 0.75, 0.0, 0.9, 0.65, 1.25, 0.75, 0.95, 0.65, 1.2,
  0.65, 0.95, 0.65, 0.0, 0.85, 0.7, 0.9, 0.65, 0.8, 0.5,
  0.7, 1.8, 0.9, 1.05, 0.65, 0.5, 0.6, 0.65, 1.75, 0.9,
  0.95, 0.7, 0.5
];
var svrJan2 = [
  -0.25, 0.0, -0.3, -0.05, -0.2, 0.05, -0.3, -0.35, 0.42, -0.1,
  0.05, -0.2, 0.0, -0.15, 0.15, 0.0, 0.25, 0.1, 0.3, 0.15,
  0.35, 0.2, 0.4, 0.3, 1.4, 0.9, 1.2, 0.6, 1.55, 0.5,
  0.2, 0.15, 0.9, 1.6, 1.2, 1.55, 1.0, 0.7, 0.55, 0.8,
  0.75, 0.5, 0.6, 0.4, 0.55, 0.45, 0.5, 0.6, 0.45, 0.5,
  0.35, 0.45, 0.5, 0.55, 0.65, 0.5, 0.4, 0.3, 0.15, 0.2,
  0.1, 0.25, 0.15, 0.3, 0.2, 0.35, 0.25, 0.4, 0.3, 0.35,
  0.2, 0.4, 0.6, 0.3, 0.35, 0.15, 0.3, 0.2, 0.35, 0.25,
  0.3, 0.2, 0.45, 0.25, 0.3, 0.15, 0.25, 0.1, 0.2, 0.05,
  0.25, 0.3, 0.45, 0.35, 0.5, 0.4, 0.55, 0.3, -0.1, 0.1,
  0.0, 0.2, 0.1, 0.35, 0.6, 0.3, 0.5, 0.35, 0.45, 0.3,
  0.35, 0.5, 0.6, 0.35, 0.5, 0.3, 0.45, 0.25, 0.4, 0.2,
  0.3, 0.15, 0.35, 0.2, 0.3, 0.05, 0.3, 0.4, 0.6, 0.45,
  0.25, 0.2, 0.1, 0.05, 0.0, -0.05, -0.05, 0.0, -0.05, 0.05,
  -0.05, 0.15, 0.3, 0.1, 0.0, 0.05, -0.05, -0.05, -0.03, -0.05,
  -0.04, -0.06, -0.05, -0.04, -0.05, -0.05, -0.03, -0.04, -0.03, -0.02,
  -0.02, -0.03, -0.02, -0.03, -0.03, -0.04, -0.04, -0.03, -0.04, -0.05,
  -0.05, -0.04, -0.05, -0.05, -0.04, -0.05, -0.06, -0.05, -0.05, -0.05,
  -0.05, -0.03, 0.2, 0.15, 0.3, 0.2, 0.15, 0.25, 0.2, 0.15,
  0.1, 0.1, 0.05
];
var rfJan2 = [
  -0.2, 0.0, -0.3, 0.0, -0.2, 0.1, -0.35, -0.45, 0.65, -0.1,
  0.1, -0.25, 0.0, -0.2, 0.2, 0.0, 0.35, 0.1, 0.4, 0.15,
  0.45, 0.2, 0.7, 0.5, 2.4, 2.2, 2.5, 1.5, 2.2, 0.0,
  -0.6, -0.3, 1.8, 2.0, 2.4, 2.5, 2.1, 1.7, 1.25, 1.1,
  1.3, 1.0, 0.85, 1.05, 0.8, 1.0, 0.85, 1.25, 0.95, 0.9,
  0.75, 0.8, 0.75, 0.95, 1.1, 1.0, 0.75, 0.6, 0.5, 0.65,
  0.5, 0.6, 0.5, 0.8, 0.55, 0.75, 0.55, 0.8, 0.6, 0.8,
  0.5, 0.7, 2.15, 0.6, 0.8, 0.5, 0.75, 0.55, 0.7, 0.6,
  0.65, 0.55, 0.75, 0.6, 0.7, 0.55, 0.6, 0.5, 0.55, 0.5,
  0.55, 0.9, 1.3, 1.0, 0.7, 1.1, 1.3, 0.9, -0.05, 0.5,
  0.3, 0.55, 0.4, 0.5, 0.95, 0.7, 1.0, 0.75, 0.9, 0.7,
  0.95, 0.6, 0.85, 1.0, 0.6, 0.85, 0.5, 0.9, 0.6, 0.75,
  0.55, 0.7, 0.5, 0.75, 0.5, 0.65, 0.6, 0.75, 0.95, 0.65,
  0.8, 0.55, 0.7, 0.6, 0.72, 0.6, -0.75, 0.4, 0.65, 0.5,
  0.75, 0.6, 1.0, 0.55, 0.8, 0.6, 0.95, 0.7, 1.0, 0.55,
  0.75, 0.6, 0.8, 0.55, 0.85, 1.1, 0.6, 0.8, 0.5, 0.75,
  1.3, 0.7, 0.1, 0.85, 0.6, 1.2, 0.7, 0.9, 0.6, 1.1,
  0.6, 0.9, 0.6, 0.1, 0.8, 0.65, 0.85, 0.6, 0.75, 0.45,
  0.65, 1.6, 0.8, 1.0, 0.6, 0.45, 0.55, 0.6, 1.7, 0.85,
  0.9, 0.65, 0.5
];
var mlpJan2 = [
  0.1, 0.3, 0.0, 0.25, -0.1, 0.3, 0.0, 0.2, 0.8, 0.3,
  0.45, 0.15, 0.5, 0.25, 0.7, 0.45, 0.75, 0.5, 0.7, 0.5,
  0.8, 0.55, 1.0, 0.6, 3.6, 2.0, 4.3, 3.2, 3.6, 1.5,
  0.9, 1.3, 3.0, 3.3, 2.6, 2.3, 2.5, 1.9, 1.5, 2.0,
  1.6, 1.9, 1.4, 1.8, 1.4, 1.6, 1.3, 2.2, 1.5, 1.8,
  1.3, 1.5, 1.9, 1.4, 2.2, 1.7, 1.4, 1.6, 1.2, 1.6,
  1.4, 1.75, 1.3, 1.6, 1.4, 1.75, 1.5, 1.8, 1.3, 1.6,
  1.1, 1.5, 2.0, 1.2, 1.7, 1.1, 1.4, 1.0, 1.3, 1.0,
  1.35, 1.1, 1.3, 0.9, 1.15, 0.9, 1.1, 0.7, 0.5, 0.1,
  0.2, 0.6, 0.9, 1.1, 0.8, 1.05, 0.8, 0.9, -0.05, 0.3,
  0.6, 0.8, 0.55, 1.0, 1.5, 1.0, 1.2, 0.9, 1.4, 1.0,
  1.3, 0.9, 1.5, 1.0, 1.3, 1.1, 1.5, 1.0, 1.4, 1.2,
  1.5, 1.0, 1.3, 0.8, 1.1, 0.6, 0.9, 0.75, 1.3, 0.9,
  1.1, 0.7, 0.9, 0.6, 0.4, 0.8, -0.2, 0.7, 1.7, 0.9,
  1.5, 0.9, 1.3, 1.6, 2.0, 2.4, 2.0, 2.6, 2.2, 3.0,
  2.3, 1.4, 2.3, 2.0, 2.6, 1.9, 2.65, 2.0, 2.2, 1.8,
  2.3, 1.5, 1.4, 2.1, 1.7, 2.0, 1.5, 2.0, 1.6, 1.8,
  1.3, 1.6, 1.2, 1.0, 1.5, 2.4, 1.9, 2.3, 1.6, 2.5,
  2.0, 2.9, 3.05, 1.1, 1.0, 1.3, 1.1, 1.6, 1.4, 1.9,
  1.3, 1.8, 1.5
];

// marked period in the third column
var markerTimes = [new Date(2018, 0, 2, 6, 0), new Date(2018, 0, 2, 8, 50)];

// ---------------------------------------------------------------
var W = 1489, H = 1990;
var colLeft = [40.3, 541.3, 1042.3];
var axW = 416, axH = 233;
var rowTop0 = 116, rowGap = 393.8;
var blue = "#1f77b4", orange = "#ff7f0e";
var lw = 2.07, dash = "7.65,3.3";

var legendLocs = [
  ["upper center", "lower left", "lower center"],
  ["upper center", "lower left", "upper right"],
  ["upper center", "lower left", "upper right"],
  ["upper center", "lower left", "lower right"],
  ["upper center", "upper left", "lower right"]
];
var yStep = [[1, 0.25, 1], [1, 0.25, 1], [1, 0.25, 1], [1, 0.25, 1], [1, 0.5, 1]];

var columns = [
  {
    start: new Date(2017, 11, 24, 12, 0), end: new Date(2018, 0, 1), step: 45,
    meas: measDec, regs: [linDec, lassoDec, svrDec, rfDec, mlpDec],
    ticks: d3.timeDay.range(new Date(2017, 11, 25), new Date(2018, 0, 1, 1)),
    label: function (d) {
      return d.getDate() === 1 ? ["01", "Jan", "2018"] : [d3.timeFormat("%d")(d)];
    }
  },
  {
    start: new Date(2018, 0, 1), end: new Date(2018, 0, 2), step: 10,
    meas: measJan1, regs: [linJan1, lassoJan1, svrJan1, rfJan1, mlpJan1],
    ticks: d3.timeHour.every(3).range(new Date(2018, 0, 1, 3), new Date(2018, 0, 2, 0, 1)),
    label: function (d) {
      return d.getHours() === 0 ? ["00:00", "02-Jan"] : [d3.timeFormat("%H:%M")(d)];
    }
  },
  {
    start: new Date(2018, 0, 2), end: new Date(2018, 0, 4), step: 15,
    meas: measJan2, regs: [linJan2, lassoJan2, svrJan2, rfJan2, mlpJan2],
    ticks: d3.timeHour.every(6).range(new Date(2018, 0, 2, 6), new Date(2018, 0, 4, 0, 1)),
    label: function (d) {
      if (d.getHours() !== 0) return [d3.timeFormat("%H:%M")(d)];
      return d.getDate() === 3 ? ["00:00", "03-Jan", "2018"] : ["00:00", "04-Jan"];
    },
    markers: markerTimes
  }
];

var svg = d3.select("#chart");
svg.append("rect").attr("width", W).attr("height", H).attr("fill", "#fff");

function toPoints(col, values) {
  return values.map(function (v, i) {
    return { t: d3.timeMinute.offset(col.start, i * col.step), v: v };
  });
}

function minusSign(s) { return s.replace("-", "\u2212"); }

modelNames.forEach(function (model, r) {
  var top = rowTop0 + r * rowGap;

  svg.append("text")
    .attr("x", 746).attr("y", top - 92.2)
    .attr("text-anchor", "middle")
    .attr("font-size", 16.6)
    .text(model);

  columns.forEach(function (col, c) {
    var left = colLeft[c];
    var meas = toPoints(col, col.meas);
    var reg = toPoints(col, col.regs[r]);

    var x = d3.scaleTime().domain([col.start, col.end]).range([0, axW]);
    var ext = d3.extent(col.meas.concat(col.regs[r]));
    var padY = (ext[1] - ext[0]) * 0.05;
    var y = d3.scaleLinear().domain([ext[0] - padY, ext[1] + padY]).range([axH, 0]);

    var g = svg.append("g").attr("transform", "translate(" + left + "," + top + ")");

    // titles
    var titleLines = [tagName, "r2_score: " + r2Scores[r][c], "mean_absolute_error: " + maeScores[r][c]];
    titleLines.forEach(function (t, i) {
      g.append("text")
        .attr("x", axW / 2).attr("y", -50.2 + i * 20.5)
        .attr("text-anchor", "middle")
        .attr("font-size", 16.6)
        .text(t);
    });

    var clipId = "clip-" + r + "-" + c;
    g.append("clipPath").attr("id", clipId)
      .append("rect").attr("width", axW).attr("height", axH);

    var line = d3.line()
      .x(function (d) { return x(d.t); })
      .y(function (d) { return y(d.v); });

    var plot = g.append("g").attr("clip-path", "url(#" + clipId + ")");
    plot.append("path")
      .datum(meas)
      .attr("d", line)
      .attr("fill", "none")
      .attr("stroke", blue)
      .attr("stroke-width", lw)
      .attr("stroke-linejoin", "round");
    plot.append("path")
      .datum(reg)
      .attr("d", line)
      .attr("fill", "none")
      .attr("stroke", orange)
      .attr("stroke-width", lw)
      .attr("stroke-dasharray", dash)
      .attr("stroke-linejoin", "round");

    if (col.markers) {
      plot.selectAll(".marker")
        .data(col.markers)
        .enter().append("line")
        .attr("x1", function (d) { return x(d); })
        .attr("x2", function (d) { return x(d); })
        .attr("y1", 0).attr("y2", axH)
        .attr("stroke", blue)
        .attr("stroke-width", lw)
        .attr("stroke-dasharray", dash);
    }

    // frame
    g.append("rect")
      .attr("width", axW).attr("height", axH)
      .attr("fill", "none").attr("stroke", "#000").attr("stroke-width", 1.1);

    // y axis
    var step = yStep[r][c];
    var dec = step >= 1 ? 0 : (step === 0.5 ? 1 : 2);
    var dom = y.domain();
    var yTicks = d3.range(Math.ceil(dom[0] / step - 1e-9), Math.floor(dom[1] / step + 1e-9) + 1)
      .map(function (k) { return k * step + 0; });
    var fmt = d3.format("." + dec + "f");
    var yAxis = d3.axisLeft(y).tickValues(yTicks)
      .tickSize(4.83).tickPadding(4.3)
      .tickFormat(function (d) { return minusSign(fmt(d)); });
    var ya = g.append("g").call(yAxis);
    ya.select(".domain").remove();
    ya.selectAll("line").attr("stroke", "#000").attr("stroke-width", 1.1);
    ya.selectAll("text").attr("font-size", 13.8).attr("fill", "#000")
      .attr("font-family", "DejaVu Sans, sans-serif");

    // x axis: ticks at left edge and at the labelled times
    var xa = g.append("g").attr("transform", "translate(0," + axH + ")");
    var tickTimes = [col.start].concat(col.ticks);
    xa.selectAll("line")
      .data(tickTimes)
      .enter().append("line")
      .attr("x1", function (d) { return x(d); })
      .attr("x2", function (d) { return x(d); })
      .attr("y1", 0).attr("y2", 4.83)
      .attr("stroke", "#000").attr("stroke-width", 1.1);
    col.ticks.forEach(function (d) {
      var lines = col.label(d);
      var txt = xa.append("text")
        .attr("x", x(d))
        .attr("text-anchor", "middle")
        .attr("font-size", 13.8);
      lines.forEach(function (s, i) {
        txt.append("tspan")
          .attr("x", x(d))
          .attr("y", (lines.length > 1 ? 21 : 18) + i * 16.6)
          .text(s);
      });
    });

    // legend
    var loc = legendLocs[r][c];
    var bw = 144.6, bh = 45.3, pad = 7;
    var bx = loc.indexOf("left") >= 0 ? pad : (loc.indexOf("right") >= 0 ? axW - pad - bw : (axW - bw) / 2);
    var by = loc.indexOf("upper") >= 0 ? pad : axH - pad - bh;
    var lg = g.append("g").attr("transform", "translate(" + bx + "," + by + ")");
    lg.append("rect")
      .attr("width", bw).attr("height", bh).attr("rx", 3)
      .attr("fill", "#fff").attr("fill-opacity", 0.8)
      .attr("stroke", "#cccccc").attr("stroke-width", 1.1);
    seriesNames.forEach(function (name, i) {
      var cy = 10.6 + i * 21.3;
      lg.append("line")
        .attr("x1", 4.5).attr("x2", 32.5).attr("y1", cy).attr("y2", cy)
        .attr("stroke", i === 0 ? blue : orange)
        .attr("stroke-width", lw)
        .attr("stroke-dasharray", i === 0 ? null : dash);
      lg.append("text")
        .attr("x", 44.5).attr("y", cy + 5)
        .attr("font-size", 13.8)
        .text(name);
    });
  });
});
</script>
</body>
</html>
